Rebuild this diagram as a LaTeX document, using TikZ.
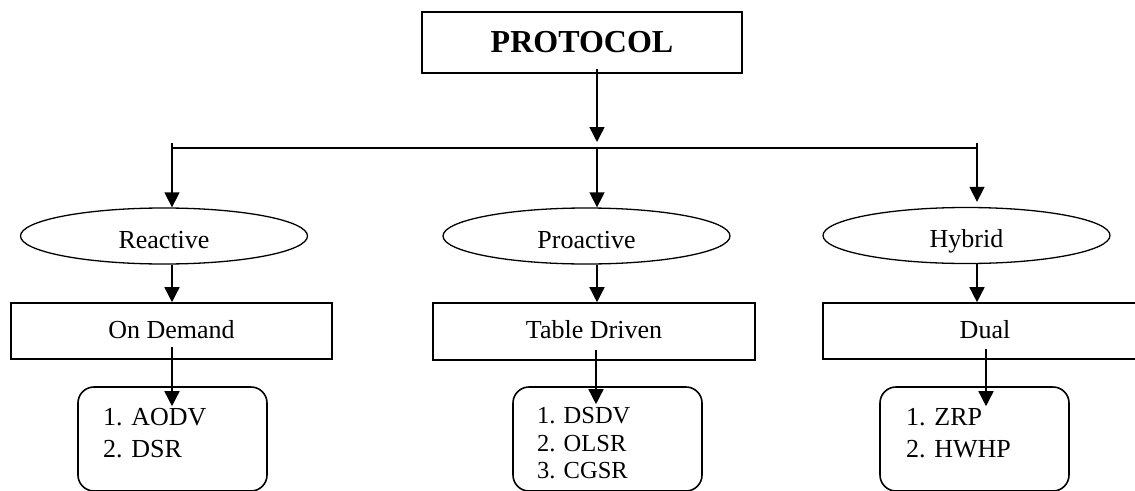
\documentclass[tikz,border=0pt]{standalone}
\usepackage{fontspec}
\setmainfont{Liberation Serif}
\usetikzlibrary{arrows.meta,calc,shapes.geometric}
\begin{document}
\begin{tikzpicture}[x=1pt,y=-1pt,
  arr/.style={line width=1.5pt,-{Triangle[width=15pt,length=15pt]}},
  ln/.style={line width=1.5pt},
  boxnode/.style={draw,line width=1.6pt,rectangle,inner sep=0pt,font=\fontsize{26}{30}\selectfont,text height=14pt,text depth=0pt},
  ovalnode/.style={draw,line width=1.3pt,ellipse,inner sep=0pt,minimum width=287pt,minimum height=56pt,font=\fontsize{26}{30}\selectfont,text height=24pt,text depth=0pt},
  listbox/.style={draw,line width=1.6pt,rounded corners=16pt,minimum width=189pt,minimum height=104pt,inner sep=0pt},
  listtxt/.style={anchor=base west,inner sep=0pt}
]
\useasboundingbox (0,0) rectangle (1135,490);
% top
\node[draw,line width=1.6pt,minimum width=320pt,minimum height=61pt,inner sep=0pt,font=\fontsize{32}{36}\selectfont\bfseries] (proto) at (582,42.5) {PROTOCOL};
% bus coordinates
\coordinate (bl) at (172,143);
\coordinate (br) at (977,143);
\coordinate (bm) at (597,148);
% second level
\node[ovalnode] (re) at (164,236) {Reactive};
\node[ovalnode] (pr) at (586.5,236) {Proactive};
\node[ovalnode] (hy) at (966.5,235.5) {Hybrid};
% third level
\node[boxnode,minimum width=321pt,minimum height=56pt] (od) at (171.5,331) {On Demand};
\node[boxnode,minimum width=322pt,minimum height=57pt] (td) at (594,331.5) {Table Driven};
\node[boxnode,minimum width=324pt,minimum height=56pt] (du) at (985,331) {Dual};
% lists
\node[listbox] (l1) at (172.5,439) {};
\node[listbox] (l2) at (607.5,439) {};
\node[listbox] (l3) at (974.5,439) {};
\node[listtxt,font=\fontsize{26}{30}\selectfont] (l1a) at (103,425) {1. AODV};
\node[listtxt,font=\fontsize{26}{30}\selectfont] (l1b) at (103,457) {2. DSR};
\node[listtxt,font=\fontsize{24.5}{28}\selectfont] (l2a) at (537,423) {1. DSDV};
\node[listtxt,font=\fontsize{24.5}{28}\selectfont] (l2b) at (537,451) {2. OLSR};
\node[listtxt,font=\fontsize{24.5}{28}\selectfont] (l2c) at (537,478) {3. CGSR};
\node[listtxt,font=\fontsize{26}{30}\selectfont] (l3a) at (906,425) {1. ZRP};
\node[listtxt,font=\fontsize{26}{30}\selectfont] (l3b) at (906,457) {2. HWHP};
% connectors
\draw[arr] ($(proto.south -| bm)+(0,-5)$) -- ($(bm)+(0,-6)$);
\draw[ln] (bl |- bm) -- (br |- bm);
\draw[arr] (bl) -- (bl |- re.north);
\draw[arr] (bm) -- (bm |- pr.north);
\draw[arr] (br) -- ($(br |- hy.north)+(0,-5)$);
\draw[arr] (re.south -| bl) -- (od.north -| bl);
\draw[arr] (pr.south -| bm) -- (td.north -| bm);
\draw[arr] (hy.south -| br) -- (du.north -| br);
\draw[arr] ($(od.center -| bl)+(0,16)$) -- ($(l1.north -| bl)+(0,20)$);
\draw[arr] ($(td.center -| bm)+(-1,18)$) -- ($(l2.north -| bm)+(-1,18)$);
\draw[arr] ($(du.center -| br)+(9,18)$) -- ($(l3.north -| br)+(9,20)$);
\end{tikzpicture}
\end{document}
